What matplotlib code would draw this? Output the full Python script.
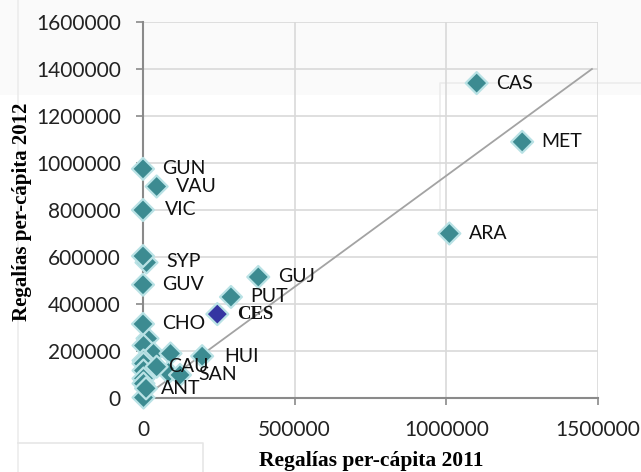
import matplotlib
matplotlib.use("Agg")
import matplotlib.pyplot as plt
from matplotlib.patches import Rectangle
from matplotlib.lines import Line2D
from matplotlib.ticker import FuncFormatter

# labelled departments: regalias per capita 2011 (x) vs 2012 (y)
names = ["CAS", "MET", "ARA", "GUN", "VAU", "VIC", "SYP", "GUV", "GUJ",
         "PUT", "CES", "CHO", "HUI", "CAU", "SAN", "ANT"]
x2011 = [1100000, 1250000, 1010000, 0, 45000, 0, 0, 0, 380000,
         290000, 245000, 0, 195000, 45000, 122000, 10000]
y2012 = [1340000, 1090000, 700000, 975000, 900000, 800000, 604000, 482000, 515000,
         430000, 357000, 315000, 178000, 133000, 98000, 41000]

# unlabelled points in the crowded corner
other_x = [10000, 12000, 0, 34000, 89000, 0, 0, 82000, 0, 0, 0, 0]
other_y = [580000, 254000, 225000, 190000, 190000, 162000, 149000, 112000,
           119000, 85000, 64000, 6000]

# reference line
line_x = [0, 1480000]
line_y = [0, 1400000]

xticks = [0, 500000, 1000000, 1500000]
yticks = [0, 200000, 400000, 600000, 800000, 1000000, 1200000, 1400000, 1600000]

# label offsets in points (dx, dy)
offsets = {"SYP": (17, -4), "VIC": (16, 0), "CAU": (8, 0), "SAN": (13, 0),
           "ANT": (11, 0), "HUI": (16, 0)}

teal = "#3c8b91"
edge = "#b9e2e5"
ces_col = "#3535a2"

fig = plt.figure(figsize=(6.41, 4.72), dpi=100)

# faint page boxes behind the chart
fig.patches.append(Rectangle((0, 1 - 95 / 472), 1, 95 / 472, transform=fig.transFigure,
                             facecolor="#fafafa", edgecolor="none", zorder=-5))
fig.lines.append(Line2D([18 / 641, 18 / 641], [0, 1], transform=fig.transFigure,
                        color="#ececec", lw=1.2, zorder=-4))
fig.lines.append(Line2D([18 / 641, 203 / 641, 203 / 641], [1 - 443 / 472, 1 - 443 / 472, 0],
                        transform=fig.transFigure, color="#e6e6e6", lw=1.2, zorder=-4))
fig.lines.append(Line2D([440 / 641, 440 / 641, 1], [1 - 210 / 472, 1 - 83 / 472, 1 - 83 / 472],
                        transform=fig.transFigure, color="#ececec", lw=1.2, zorder=-4))

ax = fig.add_axes([143 / 641, 1 - 398 / 472, 455 / 641, 376 / 472])
ax.set_facecolor("none")

ax.set_xlim(0, 1500000)
ax.set_ylim(0, 1600000)
ax.set_xticks(xticks)
ax.set_yticks(yticks)
plain = FuncFormatter(lambda v, p: "%d" % v)
ax.xaxis.set_major_formatter(plain)
ax.yaxis.set_major_formatter(plain)
ax.grid(True, color="#d9d9d9", lw=1.2)
ax.set_axisbelow(True)
for s in ["top", "right"]:
    ax.spines[s].set_visible(False)
for s in ["left", "bottom"]:
    ax.spines[s].set_color("#8a8a8a")
    ax.spines[s].set_linewidth(1.5)
ax.tick_params(colors="#8a8a8a", width=1.2, length=5, labelcolor="#222222",
               labelsize=15)
ax.tick_params(axis="y", pad=11)
ax.tick_params(axis="x", pad=11)
for lab in ax.get_xticklabels() + ax.get_yticklabels():
    lab.set_family("Lato")

ax.plot(line_x, line_y, color="#a3a3a3", lw=1.3, zorder=2)

ax.scatter(other_x, other_y, marker="D", s=125, color=teal, edgecolors=edge,
           linewidths=1.6, zorder=3, clip_on=False)
cols = [ces_col if n == "CES" else teal for n in names]
ax.scatter(x2011, y2012, marker="D", s=125, color=cols, edgecolors=edge,
           linewidths=1.6, zorder=4, clip_on=False)

for n, xv, yv in zip(names, x2011, y2012):
    dx, dy = offsets.get(n, (14, 0))
    if n == "CES":
        ax.annotate(n, (xv, yv), xytext=(dx, dy), textcoords="offset points",
                    ha="left", va="center", fontsize=13.5, fontweight="bold",
                    family="Liberation Serif", color="#111111", zorder=5)
    else:
        ax.annotate(n, (xv, yv), xytext=(dx, dy), textcoords="offset points",
                    ha="left", va="center", fontsize=14, family="Lato",
                    color="#111111", zorder=5)

ax.set_xlabel("Regalías per-cápita 2011", family="Liberation Serif", fontweight="bold",
              fontsize=15.5)
ax.set_ylabel("Regalías per-cápita 2012", family="Liberation Serif", fontweight="bold",
              fontsize=15)
ax.xaxis.set_label_coords(0.501, -0.14)
ax.yaxis.set_label_coords(-0.245, 0.495)

fig.savefig("out.png", dpi=100)
